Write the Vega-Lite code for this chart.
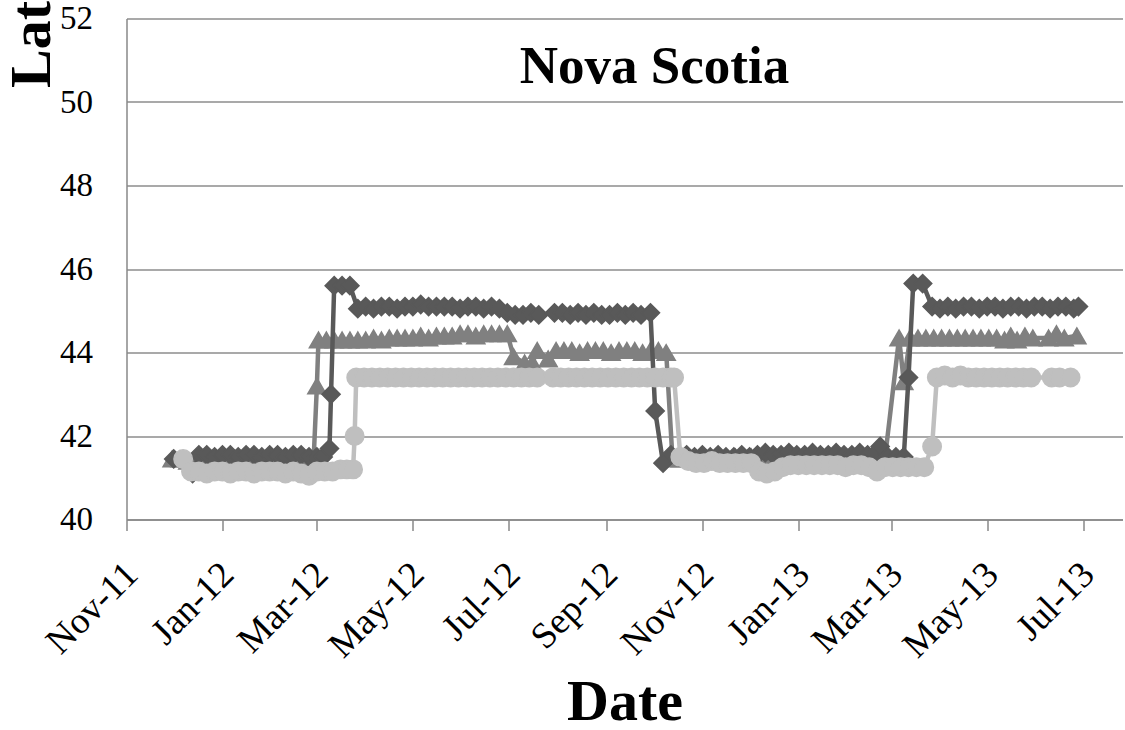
{
"$schema": "https://vega.github.io/schema/vega-lite/v6.json",
"width": 996, "height": 501,
"autosize": "none",
"padding": {"left": 126.5, "top": 18.5, "right": 2.5, "bottom": 210.5},
"background": "white",
"config": {"view": {"stroke": null}, "font": "Liberation Serif"},
"title": {"text": "Nova Scotia", "font": "Liberation Serif", "fontSize": 53, "fontWeight": "bold", "color": "black", "anchor": "middle", "frame": "group", "dx": 30, "orient": "top", "offset": -135, "baseline": "alphabetic"},
"datasets": {
"A": [
{"date":"2011-12-01","lat":41.45},{"date":"2011-12-13","lat":41.1},{"date":"2011-12-17","lat":41.55},{"date":"2011-12-22","lat":41.55},{"date":"2011-12-27","lat":41.5},
{"date":"2012-01-01","lat":41.55},{"date":"2012-01-06","lat":41.55},{"date":"2012-01-11","lat":41.5},{"date":"2012-01-16","lat":41.55},{"date":"2012-01-21","lat":41.55},{"date":"2012-01-26","lat":41.5},{"date":"2012-01-31","lat":41.55},
{"date":"2012-02-05","lat":41.55},{"date":"2012-02-10","lat":41.5},{"date":"2012-02-15","lat":41.55},{"date":"2012-02-20","lat":41.55},{"date":"2012-02-25","lat":41.5},
{"date":"2012-03-01","lat":41.5},{"date":"2012-03-05","lat":41.5},{"date":"2012-03-09","lat":41.7},{"date":"2012-03-10","lat":43.0},{"date":"2012-03-12","lat":45.6},{"date":"2012-03-17","lat":45.6},{"date":"2012-03-22","lat":45.6},{"date":"2012-03-27","lat":45.05},
{"date":"2012-04-01","lat":45.1},{"date":"2012-04-06","lat":45.05},{"date":"2012-04-11","lat":45.1},{"date":"2012-04-16","lat":45.1},{"date":"2012-04-21","lat":45.05},{"date":"2012-04-26","lat":45.1},
{"date":"2012-05-01","lat":45.1},{"date":"2012-05-06","lat":45.15},{"date":"2012-05-11","lat":45.1},{"date":"2012-05-16","lat":45.1},{"date":"2012-05-21","lat":45.1},{"date":"2012-05-26","lat":45.1},{"date":"2012-05-31","lat":45.05},
{"date":"2012-06-05","lat":45.1},{"date":"2012-06-10","lat":45.1},{"date":"2012-06-15","lat":45.05},{"date":"2012-06-20","lat":45.1},{"date":"2012-06-25","lat":45.05},{"date":"2012-06-30","lat":44.95},
{"date":"2012-07-05","lat":44.9},{"date":"2012-07-10","lat":44.9},{"date":"2012-07-15","lat":44.95},{"date":"2012-07-20","lat":44.9},{"date":"2012-07-30","lat":44.95},
{"date":"2012-08-04","lat":44.95},{"date":"2012-08-09","lat":44.9},{"date":"2012-08-14","lat":44.95},{"date":"2012-08-19","lat":44.9},{"date":"2012-08-24","lat":44.95},{"date":"2012-08-29","lat":44.9},
{"date":"2012-09-03","lat":44.9},{"date":"2012-09-08","lat":44.95},{"date":"2012-09-13","lat":44.9},{"date":"2012-09-18","lat":44.95},{"date":"2012-09-23","lat":44.9},{"date":"2012-09-29","lat":44.95},
{"date":"2012-10-02","lat":42.6},{"date":"2012-10-07","lat":41.35},{"date":"2012-10-12","lat":41.55},{"date":"2012-10-17","lat":41.5},{"date":"2012-10-22","lat":41.55},{"date":"2012-10-27","lat":41.5},
{"date":"2012-11-01","lat":41.55},{"date":"2012-11-06","lat":41.5},{"date":"2012-11-11","lat":41.55},{"date":"2012-11-16","lat":41.5},{"date":"2012-11-21","lat":41.5},{"date":"2012-11-26","lat":41.55},
{"date":"2012-12-01","lat":41.5},{"date":"2012-12-06","lat":41.55},{"date":"2012-12-11","lat":41.6},{"date":"2012-12-16","lat":41.55},{"date":"2012-12-21","lat":41.55},{"date":"2012-12-26","lat":41.6},{"date":"2012-12-31","lat":41.55},
{"date":"2013-01-05","lat":41.55},{"date":"2013-01-10","lat":41.6},{"date":"2013-01-15","lat":41.55},{"date":"2013-01-20","lat":41.55},{"date":"2013-01-25","lat":41.6},{"date":"2013-01-30","lat":41.55},
{"date":"2013-02-04","lat":41.55},{"date":"2013-02-09","lat":41.6},{"date":"2013-02-14","lat":41.55},{"date":"2013-02-18","lat":41.55},{"date":"2013-02-22","lat":41.75},{"date":"2013-02-27","lat":41.5},
{"date":"2013-03-04","lat":41.5},{"date":"2013-03-09","lat":41.5},{"date":"2013-03-12","lat":43.4},{"date":"2013-03-15","lat":45.65},{"date":"2013-03-21","lat":45.65},{"date":"2013-03-27","lat":45.1},
{"date":"2013-04-01","lat":45.05},{"date":"2013-04-06","lat":45.1},{"date":"2013-04-11","lat":45.05},{"date":"2013-04-16","lat":45.1},{"date":"2013-04-21","lat":45.1},{"date":"2013-04-26","lat":45.05},
{"date":"2013-05-01","lat":45.1},{"date":"2013-05-06","lat":45.1},{"date":"2013-05-11","lat":45.05},{"date":"2013-05-16","lat":45.1},{"date":"2013-05-21","lat":45.1},{"date":"2013-05-26","lat":45.05},{"date":"2013-05-31","lat":45.1},
{"date":"2013-06-05","lat":45.1},{"date":"2013-06-10","lat":45.05},{"date":"2013-06-15","lat":45.1},{"date":"2013-06-20","lat":45.1},{"date":"2013-06-25","lat":45.05},{"date":"2013-06-28","lat":45.1}
],
"B": [
{"date":"2011-11-30","lat":41.45},{"date":"2011-12-05","lat":41.45},{"date":"2011-12-10","lat":41.4},{"date":"2011-12-15","lat":41.45},{"date":"2011-12-20","lat":41.45},{"date":"2011-12-25","lat":41.45},{"date":"2011-12-30","lat":41.4},
{"date":"2012-01-04","lat":41.45},{"date":"2012-01-09","lat":41.45},{"date":"2012-01-14","lat":41.45},{"date":"2012-01-19","lat":41.4},{"date":"2012-01-24","lat":41.45},{"date":"2012-01-29","lat":41.45},
{"date":"2012-02-03","lat":41.45},{"date":"2012-02-08","lat":41.45},{"date":"2012-02-13","lat":41.4},{"date":"2012-02-18","lat":41.45},{"date":"2012-02-23","lat":41.45},{"date":"2012-02-28","lat":41.5},
{"date":"2012-03-01","lat":43.2},{"date":"2012-03-02","lat":44.3},{"date":"2012-03-07","lat":44.3},{"date":"2012-03-12","lat":44.3},{"date":"2012-03-17","lat":44.3},{"date":"2012-03-22","lat":44.3},{"date":"2012-03-27","lat":44.3},
{"date":"2012-04-01","lat":44.3},{"date":"2012-04-06","lat":44.35},{"date":"2012-04-11","lat":44.3},{"date":"2012-04-16","lat":44.35},{"date":"2012-04-21","lat":44.35},{"date":"2012-04-26","lat":44.35},
{"date":"2012-05-01","lat":44.35},{"date":"2012-05-06","lat":44.4},{"date":"2012-05-11","lat":44.35},{"date":"2012-05-16","lat":44.4},{"date":"2012-05-21","lat":44.4},{"date":"2012-05-26","lat":44.4},{"date":"2012-05-31","lat":44.45},
{"date":"2012-06-05","lat":44.45},{"date":"2012-06-10","lat":44.4},{"date":"2012-06-15","lat":44.45},{"date":"2012-06-20","lat":44.45},{"date":"2012-06-25","lat":44.45},{"date":"2012-06-30","lat":44.45},
{"date":"2012-07-04","lat":43.9},{"date":"2012-07-11","lat":43.75},{"date":"2012-07-16","lat":43.75},{"date":"2012-07-19","lat":44.05},{"date":"2012-07-26","lat":43.85},{"date":"2012-07-31","lat":44.05},
{"date":"2012-08-05","lat":44.05},{"date":"2012-08-10","lat":44.05},{"date":"2012-08-15","lat":44.0},{"date":"2012-08-20","lat":44.05},{"date":"2012-08-25","lat":44.05},{"date":"2012-08-30","lat":44.05},
{"date":"2012-09-04","lat":44.0},{"date":"2012-09-09","lat":44.05},{"date":"2012-09-14","lat":44.05},{"date":"2012-09-19","lat":44.05},{"date":"2012-09-24","lat":44.0},{"date":"2012-09-29","lat":44.05},
{"date":"2012-10-04","lat":44.05},{"date":"2012-10-09","lat":44.0},{"date":"2012-10-13","lat":41.45},{"date":"2012-10-18","lat":41.45},{"date":"2012-10-23","lat":41.5},{"date":"2012-10-28","lat":41.45},
{"date":"2012-11-02","lat":41.5},{"date":"2012-11-07","lat":41.45},{"date":"2012-11-12","lat":41.5},{"date":"2012-11-17","lat":41.45},{"date":"2012-11-22","lat":41.5},{"date":"2012-11-27","lat":41.45},
{"date":"2012-12-02","lat":41.5},{"date":"2012-12-07","lat":41.45},{"date":"2012-12-12","lat":41.5},{"date":"2012-12-17","lat":41.45},{"date":"2012-12-22","lat":41.5},{"date":"2012-12-27","lat":41.45},
{"date":"2013-01-01","lat":41.5},{"date":"2013-01-06","lat":41.45},{"date":"2013-01-11","lat":41.5},{"date":"2013-01-16","lat":41.45},{"date":"2013-01-21","lat":41.5},{"date":"2013-01-26","lat":41.45},{"date":"2013-01-31","lat":41.5},
{"date":"2013-02-05","lat":41.45},{"date":"2013-02-10","lat":41.5},{"date":"2013-02-15","lat":41.45},{"date":"2013-02-20","lat":41.5},{"date":"2013-02-25","lat":41.45},
{"date":"2013-03-06","lat":44.35},{"date":"2013-03-09","lat":43.3},{"date":"2013-03-13","lat":44.35},{"date":"2013-03-18","lat":44.35},{"date":"2013-03-23","lat":44.35},{"date":"2013-03-28","lat":44.35},
{"date":"2013-04-02","lat":44.35},{"date":"2013-04-07","lat":44.35},{"date":"2013-04-12","lat":44.35},{"date":"2013-04-17","lat":44.35},{"date":"2013-04-22","lat":44.35},{"date":"2013-04-27","lat":44.35},
{"date":"2013-05-02","lat":44.35},{"date":"2013-05-07","lat":44.35},{"date":"2013-05-12","lat":44.3},{"date":"2013-05-16","lat":44.4},{"date":"2013-05-20","lat":44.3},{"date":"2013-05-25","lat":44.4},{"date":"2013-05-30","lat":44.35},
{"date":"2013-06-09","lat":44.35},{"date":"2013-06-14","lat":44.45},{"date":"2013-06-19","lat":44.35},{"date":"2013-06-27","lat":44.4}
],
"C": [
{"date":"2011-12-07","lat":41.45},{"date":"2011-12-12","lat":41.15},{"date":"2011-12-17","lat":41.15},{"date":"2011-12-22","lat":41.1},{"date":"2011-12-27","lat":41.15},
{"date":"2012-01-01","lat":41.15},{"date":"2012-01-06","lat":41.1},{"date":"2012-01-11","lat":41.15},{"date":"2012-01-16","lat":41.15},{"date":"2012-01-21","lat":41.1},{"date":"2012-01-26","lat":41.15},{"date":"2012-01-31","lat":41.15},
{"date":"2012-02-05","lat":41.15},{"date":"2012-02-10","lat":41.1},{"date":"2012-02-15","lat":41.15},{"date":"2012-02-20","lat":41.1},{"date":"2012-02-25","lat":41.05},
{"date":"2012-03-01","lat":41.15},{"date":"2012-03-06","lat":41.15},{"date":"2012-03-11","lat":41.15},{"date":"2012-03-16","lat":41.2},{"date":"2012-03-20","lat":41.2},{"date":"2012-03-24","lat":41.2},{"date":"2012-03-25","lat":42.0},{"date":"2012-03-26","lat":43.4},{"date":"2012-03-31","lat":43.4},
{"date":"2012-04-05","lat":43.4},{"date":"2012-04-10","lat":43.4},{"date":"2012-04-15","lat":43.4},{"date":"2012-04-20","lat":43.4},{"date":"2012-04-25","lat":43.4},{"date":"2012-04-30","lat":43.4},
{"date":"2012-05-05","lat":43.4},{"date":"2012-05-10","lat":43.4},{"date":"2012-05-15","lat":43.4},{"date":"2012-05-20","lat":43.4},{"date":"2012-05-25","lat":43.4},{"date":"2012-05-30","lat":43.4},
{"date":"2012-06-04","lat":43.4},{"date":"2012-06-09","lat":43.4},{"date":"2012-06-14","lat":43.4},{"date":"2012-06-19","lat":43.4},{"date":"2012-06-24","lat":43.4},{"date":"2012-06-29","lat":43.4},
{"date":"2012-07-04","lat":43.4},{"date":"2012-07-09","lat":43.4},{"date":"2012-07-14","lat":43.4},{"date":"2012-07-19","lat":43.4},{"date":"2012-07-29","lat":43.4},
{"date":"2012-08-03","lat":43.4},{"date":"2012-08-08","lat":43.4},{"date":"2012-08-13","lat":43.4},{"date":"2012-08-18","lat":43.4},{"date":"2012-08-23","lat":43.4},{"date":"2012-08-28","lat":43.4},
{"date":"2012-09-02","lat":43.4},{"date":"2012-09-07","lat":43.4},{"date":"2012-09-12","lat":43.4},{"date":"2012-09-17","lat":43.4},{"date":"2012-09-22","lat":43.4},{"date":"2012-09-27","lat":43.4},
{"date":"2012-10-02","lat":43.4},{"date":"2012-10-07","lat":43.4},{"date":"2012-10-12","lat":43.4},{"date":"2012-10-14","lat":43.4},{"date":"2012-10-18","lat":41.5},{"date":"2012-10-23","lat":41.4},{"date":"2012-10-28","lat":41.35},
{"date":"2012-11-02","lat":41.35},{"date":"2012-11-07","lat":41.4},{"date":"2012-11-12","lat":41.35},{"date":"2012-11-17","lat":41.35},{"date":"2012-11-22","lat":41.35},{"date":"2012-11-27","lat":41.35},
{"date":"2012-12-02","lat":41.35},{"date":"2012-12-07","lat":41.15},{"date":"2012-12-12","lat":41.1},{"date":"2012-12-17","lat":41.15},{"date":"2012-12-22","lat":41.25},{"date":"2012-12-27","lat":41.3},
{"date":"2013-01-01","lat":41.3},{"date":"2013-01-06","lat":41.3},{"date":"2013-01-11","lat":41.3},{"date":"2013-01-16","lat":41.3},{"date":"2013-01-21","lat":41.3},{"date":"2013-01-26","lat":41.3},{"date":"2013-01-31","lat":41.25},
{"date":"2013-02-05","lat":41.3},{"date":"2013-02-10","lat":41.3},{"date":"2013-02-15","lat":41.25},{"date":"2013-02-20","lat":41.15},{"date":"2013-02-25","lat":41.25},
{"date":"2013-03-02","lat":41.25},{"date":"2013-03-07","lat":41.25},{"date":"2013-03-12","lat":41.25},{"date":"2013-03-17","lat":41.25},{"date":"2013-03-22","lat":41.25},{"date":"2013-03-27","lat":41.75},{"date":"2013-03-30","lat":43.4},
{"date":"2013-04-04","lat":43.45},{"date":"2013-04-09","lat":43.4},{"date":"2013-04-14","lat":43.45},{"date":"2013-04-19","lat":43.4},{"date":"2013-04-24","lat":43.4},{"date":"2013-04-29","lat":43.4},
{"date":"2013-05-04","lat":43.4},{"date":"2013-05-09","lat":43.4},{"date":"2013-05-14","lat":43.4},{"date":"2013-05-19","lat":43.4},{"date":"2013-05-24","lat":43.4},{"date":"2013-05-29","lat":43.4},
{"date":"2013-06-11","lat":43.4},{"date":"2013-06-16","lat":43.4},{"date":"2013-06-23","lat":43.4}
]
},
"encoding": {
  "x": {"field": "date", "type": "temporal",
    "scale": {"domain": [{"year": 2011, "month": 11, "date": 1}, {"year": 2013, "month": 7, "date": 26}]},
    "axis": {"values": [{"year": 2011, "month": 11, "date": 1}, {"year": 2012, "month": 1, "date": 1}, {"year": 2012, "month": 3, "date": 1}, {"year": 2012, "month": 5, "date": 1}, {"year": 2012, "month": 7, "date": 1}, {"year": 2012, "month": 9, "date": 1}, {"year": 2012, "month": 11, "date": 1}, {"year": 2013, "month": 1, "date": 1}, {"year": 2013, "month": 3, "date": 1}, {"year": 2013, "month": 5, "date": 1}, {"year": 2013, "month": 7, "date": 1}],
      "format": "%b-%y", "labelAngle": -45, "labelAlign": "right", "labelBaseline": "middle", "labelFont": "Liberation Serif", "labelFontSize": 37, "labelColor": "black", "labelPadding": 38, "labelOffset": 5, "labelOverlap": false, "labelBound": false, "labelFlush": false,
      "grid": false, "domainColor": "#898989", "domainWidth": 1.5, "tickColor": "#898989", "tickWidth": 1.5, "tickSize": 11,
      "title": "Date", "titleFont": "Liberation Serif", "titleFontSize": 58, "titleFontWeight": "bold", "titleColor": "black", "titleBaseline": "alphabetic", "titleY": 200}},
  "y": {"field": "lat", "type": "quantitative",
    "scale": {"domain": [40, 52], "nice": false, "zero": false},
    "axis": {"values": [40, 42, 44, 46, 48, 50, 52], "grid": true, "gridColor": "#8c8c8c", "gridWidth": 1.5, "ticks": false, "domainColor": "#898989", "domainWidth": 1.5,
      "labelFont": "Liberation Serif", "labelFontSize": 33, "labelColor": "black", "labelPadding": 34, "labelOverlap": false, "labelBound": false, "labelFlush": false,
      "title": "Lat", "titleFont": "Liberation Serif", "titleFontSize": 58, "titleFontWeight": "bold", "titleColor": "black", "titleAngle": 270, "titleAlign": "center", "titleBaseline": "alphabetic", "titleX": -77.5, "titleY": 25.5}}
},
"layer": [
  {"data": {"name": "B"}, "mark": {"type": "line", "color": "#808080", "strokeWidth": 4.5, "point": {"shape": "triangle-up", "size": 330, "filled": true, "color": "#808080", "stroke": "#808080", "strokeWidth": 1.5, "opacity": 1}}},
  {"data": {"name": "A"}, "mark": {"type": "line", "color": "#595959", "strokeWidth": 4.5, "point": {"shape": "diamond", "size": 330, "filled": true, "color": "#595959", "stroke": "#595959", "strokeWidth": 1.5, "opacity": 1}}},
  {"data": {"name": "C"}, "mark": {"type": "line", "color": "#bfbfbf", "strokeWidth": 4.5, "point": {"shape": "circle", "size": 340, "filled": true, "color": "#bfbfbf", "stroke": "#bfbfbf", "strokeWidth": 1.5, "opacity": 1}}}
]
}
